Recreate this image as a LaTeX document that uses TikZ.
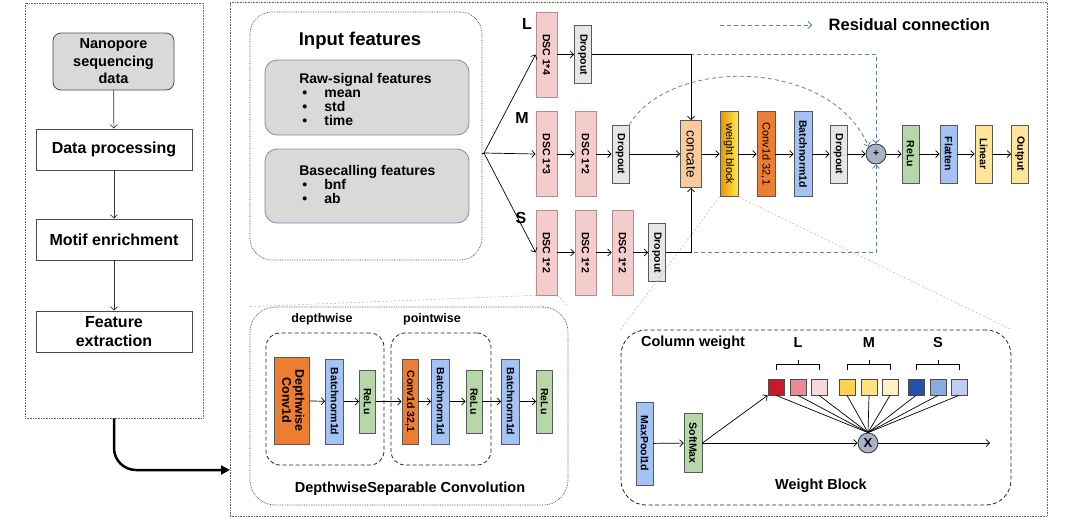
\documentclass[tikz,border=0pt]{standalone}
\usepackage{fontspec}
\setmainfont{Liberation Sans}
\usepackage{graphicx}
\usetikzlibrary{arrows.meta}

\definecolor{boxgray}{RGB}{217,217,217}
\definecolor{featedge}{RGB}{120,140,180}
\definecolor{dscpink}{RGB}{244,204,204}
\definecolor{dscedge}{RGB}{185,140,140}
\definecolor{dropgray}{RGB}{230,230,230}
\definecolor{catpeach}{RGB}{249,203,156}
\definecolor{convorange}{RGB}{237,125,49}
\definecolor{bnblue}{RGB}{164,194,244}
\definecolor{relugreen}{RGB}{182,215,168}
\definecolor{linyellow}{RGB}{255,229,153}
\definecolor{plusgray}{RGB}{168,178,198}
\definecolor{resblue}{RGB}{90,125,200}
\definecolor{wbdark}{RGB}{228,150,0}
\definecolor{wblight}{RGB}{255,230,80}
\definecolor{lred}{RGB}{204,24,44}
\definecolor{lpink}{RGB}{234,140,150}
\definecolor{llight}{RGB}{248,215,220}
\definecolor{mgold}{RGB}{255,210,80}
\definecolor{myellow}{RGB}{255,225,130}
\definecolor{mlight}{RGB}{255,240,200}
\definecolor{sdark}{RGB}{40,80,170}
\definecolor{smid}{RGB}{140,170,225}
\definecolor{slight}{RGB}{190,205,240}

\newcommand{\vlabel}[1]{\rotatebox{-90}{#1}}
\newcommand{\itembul}{\makebox[25pt][l]{\hspace{3pt}\textbullet}}

\tikzset{
  panel/.style={draw=gray!80!black, densely dotted, line width=0.6pt, inner sep=0pt},
  groupbox/.style={draw=black!75, densely dotted, line width=0.7pt, inner sep=0pt},
  dashbox/.style={draw=black!85, dash pattern=on 4pt off 2.5pt, line width=0.8pt, rounded corners=14pt, inner sep=0pt},
  stepbox/.style={draw=black!70, line width=0.8pt, fill=white, minimum width=156pt, minimum height=41pt,
    align=center, font=\fontsize{16}{19}\selectfont\bfseries},
  featbox/.style={draw=featedge, fill=boxgray, line width=0.8pt, rounded corners=12pt,
    minimum width=204pt, minimum height=75pt},
  feattxt/.style={anchor=west, align=left, inner sep=0pt, font=\fontsize{14}{14}\selectfont\bfseries},
  blk/.style={draw=gray!70!black, line width=0.7pt, inner sep=1pt, font=\fontsize{10.5}{11}\selectfont\bfseries},
  dsc/.style={blk, fill=dscpink, draw=dscedge, minimum width=21pt, minimum height=85pt},
  tallblk/.style={blk, minimum width=18pt, minimum height=85pt},
  shortblk/.style={blk, minimum width=17pt, minimum height=58pt},
  drop/.style={shortblk, fill=dropgray},
  opcirc/.style={circle, draw=black!80, line width=0.8pt, fill=plusgray, minimum size=20pt, inner sep=0pt},
  wsq/.style={draw=black!70, line width=0.7pt, minimum size=16pt, inner sep=0pt},
  res/.style={draw=resblue, dash pattern=on 4pt off 3pt, line width=0.8pt},
  zoomline/.style={draw=gray!60, dash pattern=on 2pt off 2pt, line width=0.5pt},
  lbl/.style={font=\fontsize{16}{16}\selectfont\bfseries}
}

\begin{document}
\begin{tikzpicture}[x=1pt, y=-1pt, >={Straight Barb[length=3.5pt,width=7pt]}, line width=0.7pt, font=\bfseries]
    \useasboundingbox (0,0) rectangle (1071,520);

    % Panels
    \node (leftpanel) [panel, minimum width=178pt, minimum height=415pt] at (114,210.5) {};
    \node (mainpanel) [panel, minimum width=817pt, minimum height=514pt] at (638.5,259) {};
    \coordinate (entry) at (230,470);

    % Pipeline
    \node (nano) [stepbox, fill=boxgray, rounded corners=8pt, minimum width=121pt, minimum height=57pt,
      font=\fontsize{14.5}{17.5}\selectfont\bfseries] at (113.5,61.5) {Nanopore\\sequencing\\data};
    \node (dproc) [stepbox] at (114,149.5) {Data processing};
    \node (motif) [stepbox] at (114,239.5) {Motif enrichment};
    \node (fext) [stepbox] at (114,331.5) {Feature\\extraction};

    \draw[->, gray!40!black] (nano) -- (dproc);
    \draw[->, gray!40!black] (dproc) -- (motif);
    \draw[->, gray!40!black] (motif) -- (fext);
    \draw[line width=2.5pt, -{Triangle[length=9pt,width=9pt]}, rounded corners=22pt] (leftpanel.south) |- (entry);

    % Input features
    \node (inbox) [groupbox, rounded corners=22pt, minimum width=232pt, minimum height=248pt] at (366,136) {};
    \node (intitle) [font=\fontsize{18.5}{20}\selectfont\bfseries] at (360,41) {Input features};
    \node (rawbox) [featbox] at (367,97.5) {};
    \node (rawtxt) [feattxt] at (299,99) {Raw-signal features\\ \itembul mean\\ \itembul std\\ \itembul time};
    \node (basebox) [featbox, minimum height=74pt] at (367,186) {};
    \node (basetxt) [feattxt] at (299,184) {Basecalling features\\ \itembul bnf\\ \itembul ab};
    \coordinate (fan) at (484,153);

    % Zoom guides
    \node (dscbox) [groupbox, rounded corners=25pt, minimum width=318pt, minimum height=198pt] at (409,406) {};
    \node (wbbox) [dashbox, rounded corners=25pt, minimum width=390pt, minimum height=175pt] at (816,417.5) {};

    % Branches
    \node (labL) [lbl] at (527,24) {L};
    \node (labM) [lbl] at (522,118) {M};
    \node (labS) [lbl] at (521,218) {S};

    \node (dscL) [dsc] at (546.5,54.5) {\vlabel{DSC 1*4}};
    \node (dropL) [drop] at (583,54.5) {\vlabel{Dropout}};

    \node (dscM1) [dsc] at (546.5,154) {\vlabel{DSC 1*3}};
    \node (dscM2) [dsc] at (585.5,154) {\vlabel{DSC 1*2}};
    \node (dropM) [drop] at (620.5,154) {\vlabel{Dropout}};

    \node (dscS1) [dsc] at (546.5,252.5) {\vlabel{DSC 1*2}};
    \node (dscS2) [dsc] at (585.5,252.5) {\vlabel{DSC 1*2}};
    \node (dscS3) [dsc] at (622.5,252.5) {\vlabel{DSC 1*2}};
    \node (dropS) [drop] at (657,252.5) {\vlabel{Dropout}};

    % Main path
    \node (concate) [blk, fill=catpeach, minimum width=21pt, minimum height=67pt,
      font=\fontsize{13.5}{14}\selectfont\mdseries] at (691,154) {\vlabel{concate}};
    \node (wblock) [tallblk, shading=axis, left color=wbdark, right color=wblight,
      font=\fontsize{11}{11}\selectfont\mdseries] at (729,154) {\vlabel{weight block}};
    \node (conv) [tallblk, fill=convorange, font=\fontsize{11}{11}\selectfont\mdseries] at (766,154) {\vlabel{Conv1d 32,1}};
    \node (bnM) [tallblk, fill=bnblue] at (803,154) {\vlabel{Batchnorm1d}};
    \node (dropO) [drop] at (838.5,154) {\vlabel{Dropout}};
    \node (plus) [opcirc] at (876,154) {+};
    \node (relu) [shortblk, fill=relugreen] at (910.5,154) {\vlabel{ReLu}};
    \node (flat) [shortblk, fill=bnblue] at (948.5,154) {\vlabel{Flatten}};
    \node (lin) [shortblk, fill=linyellow] at (983.5,154) {\vlabel{Linear}};
    \node (out) [shortblk, fill=linyellow] at (1020,154) {\vlabel{Output}};

    % Zoom lines
    \draw[zoomline] (dscS1.south west) -- (dscbox.north west);
    \draw[zoomline] (dscS1.south east) -- (dscbox.north east);
    \draw[zoomline] (wblock.south west) -- (wbbox.north west);
    \draw[zoomline] (wblock.south east) -- (wbbox.north east);

    % Residual connections
    \draw[res, ->] (dropL.east) -| (plus.north);
    \draw[res, ->] (dropS.east) -| (plus.south);
    \draw[res, ->] (dropM.north east) .. controls (670,57) and (830,57) .. (plus.north west);
    \coordinate (legA) at (720,25);
    \coordinate (legB) at (812,25);
    \draw[res, ->] (legA) -- (legB);
    \node (legtxt) [anchor=west, font=\fontsize{16.5}{17}\selectfont\bfseries] at (825,25) {Residual connection};

    % Edges
    \draw[->] (fan) -- (dscL.west);
    \draw[->] (fan) -- (dscM1.west);
    \draw[->] (fan) -- (dscS1.west);
    \draw (inbox.east |- fan) -- (fan);
    \draw[->] (dscL) -- (dropL);
    \draw[->] (dscM1) -- (dscM2);
    \draw[->] (dscM2) -- (dropM);
    \draw[->] (dropM) -- (concate);
    \draw[->] (dscS1) -- (dscS2);
    \draw[->] (dscS2) -- (dscS3);
    \draw[->] (dscS3) -- (dropS);
    \draw[->] (dropL.east) -| (concate.north);
    \draw[->] (dropS.east) -| (concate.south);
    \draw[->] (concate) -- (wblock);
    \draw[->] (wblock) -- (conv);
    \draw[->] (conv) -- (bnM);
    \draw[->] (bnM) -- (dropO);
    \draw[->] (dropO) -- (plus);
    \draw[->] (plus) -- (relu);
    \draw[->] (relu) -- (flat);
    \draw[->] (flat) -- (lin);
    \draw[->] (lin) -- (out);

    % Depthwise separable convolution
    \node (dwtitle) [font=\fontsize{12.5}{13}\selectfont\bfseries] at (322,319) {depthwise};
    \node (pwtitle) [font=\fontsize{12.5}{13}\selectfont\bfseries] at (432,319) {pointwise};
    \node (dwbox) [dashbox, minimum width=118pt, minimum height=132pt] at (325,399) {};
    \node (pwbox) [dashbox, minimum width=100pt, minimum height=132pt] at (441,399) {};
    \node (dwconv) [blk, fill=convorange, minimum width=35pt, minimum height=87pt,
      font=\fontsize{12.5}{13}\selectfont\bfseries] at (291.5,400.5) {\vlabel{\begin{tabular}{@{}c@{}}Depthwise\\Conv1d\end{tabular}}};
    \node (bn1) [tallblk, fill=bnblue] at (334.5,401.5) {\vlabel{Batchnorm1d}};
    \node (relu1) [shortblk, fill=relugreen, minimum width=16pt, minimum height=63pt] at (367.5,401.5) {\vlabel{ReLu}};
    \node (pwconv) [tallblk, fill=convorange, minimum width=16pt] at (410,401.5) {\vlabel{Conv1d 32,1}};
    \node (bn2) [tallblk, fill=bnblue] at (440.5,401.5) {\vlabel{Batchnorm1d}};
    \node (relu2) [shortblk, fill=relugreen, minimum width=16pt, minimum height=63pt] at (474,401.5) {\vlabel{ReLu}};
    \node (bn3) [tallblk, fill=bnblue] at (510.5,401.5) {\vlabel{Batchnorm1d}};
    \node (relu3) [shortblk, fill=relugreen, minimum width=16pt, minimum height=63pt] at (544.5,401.5) {\vlabel{ReLu}};
    \node (dsctitle) [font=\fontsize{14.5}{15}\selectfont\bfseries] at (410,489) {DepthwiseSeparable Convolution};

    \draw[->] (dwconv) -- (bn1);
    \draw[->] (bn1) -- (relu1);
    \draw[->] (relu1) -- (pwconv);
    \draw[->] (pwconv) -- (bn2);
    \draw[->] (bn2) -- (relu2);
    \draw[->] (relu2) -- (bn3);
    \draw[->] (bn3) -- (relu3);

    % Weight block
    \node (cwtitle) [font=\fontsize{14.5}{15}\selectfont\bfseries] at (693,343) {Column weight};
    \node (maxpool) [blk, fill=bnblue, minimum width=17pt, minimum height=83pt] at (644.5,443.5) {\vlabel{MaxPool1d}};
    \node (softmax) [blk, fill=relugreen, minimum width=18pt, minimum height=59pt] at (693,443) {\vlabel{SoftMax}};
    \node (xmul) [opcirc, font=\fontsize{13}{13}\selectfont\bfseries] at (868,443) {X};
    \coordinate (wbout) at (990,443);
    \node (wbtitle) [font=\fontsize{14.5}{15}\selectfont\bfseries] at (821,486) {Weight Block};

    \foreach \g/\ca/\cb/\cc/\x in {L/lred/lpink/llight/776, M/mgold/myellow/mlight/847, S/sdark/smid/slight/916} {
        \node (sq\g1) [wsq, fill=\ca] at (\x,387) {};
        \node (sq\g2) [wsq, fill=\cb] at ({\x+22},387) {};
        \node (sq\g3) [wsq, fill=\cc] at ({\x+43},387) {};
        \draw ([yshift=9pt]sq\g1.north) -- ([yshift=14pt]sq\g1.north) -- ([yshift=14pt]sq\g3.north) -- ([yshift=9pt]sq\g3.north);
        \draw ([yshift=14pt]sq\g2.north) -- ([yshift=19pt]sq\g2.north);
        \node (lab\g w) [font=\fontsize{14.5}{15}\selectfont\bfseries] at ([yshift=44pt]sq\g2.center) {\g};
        \foreach \i in {1,2,3}
            \draw (sq\g\i.south) -- (xmul.north);
    }

    \draw[->] (maxpool) -- (softmax);
    \draw[->] (softmax) -- (xmul);
    \draw[->] (softmax.east) -- (sqL1.south west);
    \draw[->] (xmul) -- (wbout);
\end{tikzpicture}
\end{document}
